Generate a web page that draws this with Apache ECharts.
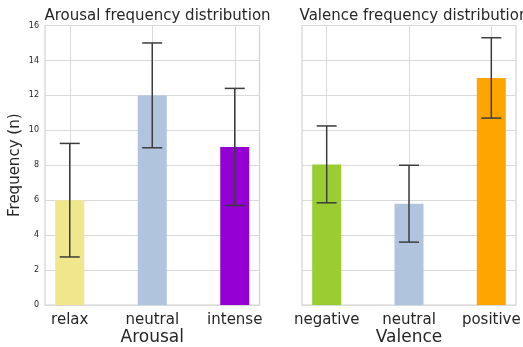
<!DOCTYPE html>
<html><head><meta charset="utf-8">
<script src="https://cdn.jsdelivr.net/npm/echarts@6/dist/echarts.min.js"></script>
<style>html,body{margin:0;padding:0;background:#fff}#c{width:523px;height:347px}</style>
</head><body><div id="c"></div>
<script>
const arousalCats = ['relax', 'neutral', 'intense'];
const arousalValues = [6.0, 12.0, 9.05];
const arousalErr = [3.25, 3.0, 3.35];
const arousalColors = ['#F0E68C', '#B0C4DE', '#9400D3'];

const valenceCats = ['negative', 'neutral', 'positive'];
const valenceValues = [8.05, 5.8, 13.0];
const valenceErr = [2.2, 2.2, 2.3];
const valenceColors = ['#9ACD32', '#B0C4DE', '#FFA500'];

const yTicks = [0, 2, 4, 6, 8, 10, 12, 14, 16];

const txt = '#262626';
const gridCol = '#d9d9d9';
const font = 'DejaVu Sans';

function xAxisFor(idx, cats, name) {
  return {
    type: 'value', gridIndex: idx, min: -0.3, max: 2.3,
    axisLine: {show: false},
    axisTick: {show: false, customValues: [0, 1, 2]},
    axisLabel: {customValues: [0, 1, 2], formatter: v => cats[Math.round(v)] || '',
      fontSize: 15, color: txt, fontFamily: font, margin: 8},
    splitLine: {show: true, lineStyle: {color: gridCol, width: 1}},
    name: name, nameLocation: 'middle', nameGap: 24, nameMoveOverlap: false,
    nameTextStyle: {fontSize: 17, color: txt, fontFamily: font}
  };
}
function yAxisFor(idx, showLabels) {
  return {
    type: 'value', gridIndex: idx, min: yTicks[0], max: yTicks[yTicks.length - 1], interval: 2,
    axisLine: {show: false}, axisTick: {show: false},
    axisLabel: {show: showLabels, fontSize: 8, color: txt, fontFamily: font, margin: 6},
    splitLine: {show: true, lineStyle: {color: gridCol, width: 1}},
    name: showLabels ? 'Frequency (n)' : '', nameLocation: 'middle', nameGap: 22, nameRotate: 90,
    nameTextStyle: {fontSize: 15, color: txt, fontFamily: font}
  };
}
function barSeries(idx, values, colors) {
  return {
    type: 'bar', xAxisIndex: idx, yAxisIndex: idx, barWidth: 29,
    data: values.map((v, i) => ({value: [i, v], itemStyle: {color: colors[i]}})),
    silent: true
  };
}
function errSeries(idx, values, errs) {
  return {
    type: 'custom', xAxisIndex: idx, yAxisIndex: idx, silent: true, z: 5,
    data: values.map((v, i) => [i, v - errs[i], v + errs[i]]),
    renderItem: function (params, api) {
      const lo = api.coord([api.value(0), api.value(1)]);
      const hi = api.coord([api.value(0), api.value(2)]);
      const hw = 10;
      const st = {stroke: '#3c3c3c', lineWidth: 1.5};
      return {type: 'group', children: [
        {type: 'line', shape: {x1: lo[0], y1: lo[1], x2: hi[0], y2: hi[1]}, style: st},
        {type: 'line', shape: {x1: lo[0] - hw, y1: lo[1], x2: lo[0] + hw, y2: lo[1]}, style: st},
        {type: 'line', shape: {x1: hi[0] - hw, y1: hi[1], x2: hi[0] + hw, y2: hi[1]}, style: st}
      ]};
    }
  };
}

const chart = echarts.init(document.getElementById('c'), null, {renderer: 'canvas'});
chart.setOption({
  backgroundColor: '#ffffff',
  animation: false,
  title: [
    {text: 'Arousal frequency distribution', left: 152.5, textAlign: 'center', top: 4,
      textStyle: {fontSize: 15, fontWeight: 'normal', color: txt, fontFamily: font}},
    {text: 'Valence frequency distribution', left: 409, textAlign: 'center', top: 4,
      textStyle: {fontSize: 15, fontWeight: 'normal', color: txt, fontFamily: font}}
  ],
  grid: [
    {left: 45, right: 263.5, top: 25.5, bottom: 42, outerBoundsMode: 'none', containLabel: false,
      show: true, borderColor: '#d2d2d2', borderWidth: 1.2, backgroundColor: 'transparent'},
    {left: 302, right: 7, top: 25.5, bottom: 42, outerBoundsMode: 'none', containLabel: false,
      show: true, borderColor: '#d2d2d2', borderWidth: 1.2, backgroundColor: 'transparent'}
  ],
  xAxis: [xAxisFor(0, arousalCats, 'Arousal'), xAxisFor(1, valenceCats, 'Valence')],
  yAxis: [yAxisFor(0, true), yAxisFor(1, false)],
  series: [
    barSeries(0, arousalValues, arousalColors),
    errSeries(0, arousalValues, arousalErr),
    barSeries(1, valenceValues, valenceColors),
    errSeries(1, valenceValues, valenceErr)
  ]
});
</script></body></html>
